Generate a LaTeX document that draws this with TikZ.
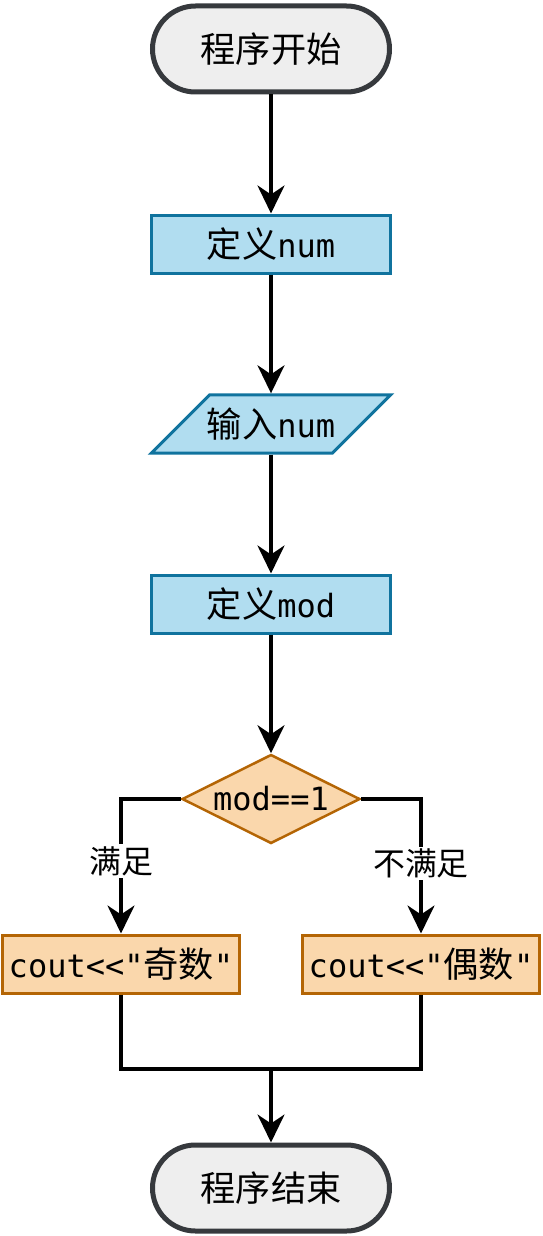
\documentclass[tikz,border=0pt]{standalone}
\usepackage{fontspec}
\setmonofont{DejaVu Sans Mono}
\newfontfamily\cjk[Scale=1.1]{Noto Sans CJK SC}
\newcommand{\zh}[1]{{\cjk #1}}
\usetikzlibrary{shapes.geometric,arrows.meta,positioning,calc}

\definecolor{termfill}{HTML}{EEEEEE}
\definecolor{termdraw}{HTML}{36393D}
\definecolor{bluefill}{HTML}{B1DDF0}
\definecolor{bluedraw}{HTML}{10739E}
\definecolor{orangefill}{HTML}{FAD7AC}
\definecolor{orangedraw}{HTML}{B46504}

\begin{document}
\begin{tikzpicture}[x=1pt,y=-1pt,
    terminal/.style={draw=termdraw, fill=termfill, line width=5pt, rounded corners=43pt,
        minimum width=237pt, minimum height=86pt, inner sep=0pt,
        font=\fontsize{32}{38}\selectfont\cjk},
    procbox/.style={draw=bluedraw, fill=bluefill, line width=3pt,
        minimum width=239pt, minimum height=58pt, inner sep=0pt,
        font=\fontsize{32}{38}\selectfont\ttfamily},
    iobox/.style={minimum width=242pt, minimum height=61pt, inner sep=0pt,
        font=\fontsize{32}{38}\selectfont\ttfamily},
    decision/.style={diamond, draw=orangedraw, fill=orangefill, line width=2.5pt, aspect=2,
        minimum width=178pt, minimum height=89pt, inner sep=0pt,
        font=\fontsize{32}{38}\selectfont\ttfamily},
    outbox/.style={draw=orangedraw, fill=orangefill, line width=3pt,
        minimum width=237pt, minimum height=58pt, inner sep=0pt,
        font=\fontsize{32}{38}\selectfont\ttfamily},
    lbl/.style={fill=white, inner sep=2pt, font=\fontsize{29}{34}\selectfont\cjk},
    arr/.style={line width=3.5pt, -{Stealth[length=28pt, width=27pt, inset=9pt]}},
    line/.style={line width=3.5pt}]
\useasboundingbox (0,0) rectangle (543,1236);

% Start / end
\node[terminal] (start) at (271,49) {程序开始};
\node[terminal] (stop) at (271,1188) {程序结束};

% Main column
\node[procbox] (defnum) at (271,244) {\zh{定义}num};
\node[iobox] (input) at (271,424) {\zh{输入}num};
\draw[draw=bluedraw, fill=bluefill, line width=3pt, line join=miter]
    ($(input.south west)+(1.5,-1.5)$) -- ($(input.north west)+(60,1.5)$)
    -- ($(input.north east)+(-1.5,1.5)$) -- ($(input.south east)+(-60,-1.5)$) -- cycle;
\node[iobox] at (input) {\zh{输入}num};
\node[procbox] (defmod) at (271,604) {\zh{定义}mod};
\node[decision] (cond) at (271,799) {mod==1};

% Branches
\node[outbox] (odd) at (121,964) {cout<<"\zh{奇数}"};
\node[outbox] (even) at (421,964) {cout<<"\zh{偶数}"};
\coordinate (merge) at (271,1069);

% Connectors
\draw[arr] (start) -- (defnum);
\draw[arr] (defnum) -- (input);
\draw[arr] (input) -- (defmod);
\draw[arr] (defmod) -- (cond);
\draw[arr] (cond.west) -| node[lbl, pos=0.73] {满足} (odd.north);
\draw[arr] (cond.east) -| node[lbl, pos=0.74] {不满足} (even.north);
\draw[line] (odd.south) |- (merge);
\draw[line] (even.south) |- (merge);
\draw[arr] (merge) -- (stop);

\end{tikzpicture}
\end{document}
